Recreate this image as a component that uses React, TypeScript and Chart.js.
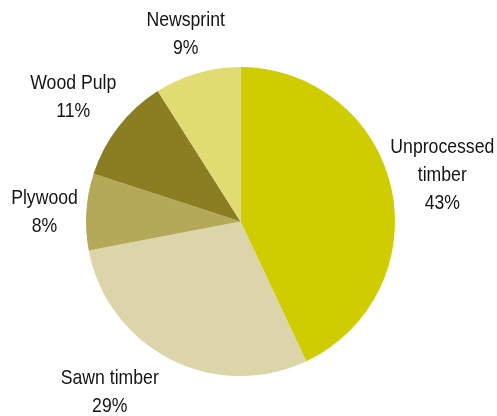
import React, { useEffect, useRef } from "react";
import { Chart, registerables } from "chart.js";

Chart.register(...registerables);

const categories: string[][] = [
  ["Unprocessed", "timber"],
  ["Sawn timber"],
  ["Plywood"],
  ["Wood Pulp"],
  ["Newsprint"],
];
const shares: number[] = [43, 29, 8, 11, 9];
const colors: string[] = ["#cfcc00", "#dbd5a9", "#b4a859", "#8b7e22", "#e0dc72"];

// label placement (style): radial distance as a multiple of radius, and angle nudge in degrees
const labelDist: number[] = [1.34, 1.39, 1.27, 1.35, 1.265];
const labelNudge: number[] = [-0.3, 10.5, -0.8, -1.1, -0.1];

const FONT = '"Liberation Sans", Arial, sans-serif';
const NARROW = 0.84;

const outsideLabels = {
  id: "outsideLabels",
  afterDatasetsDraw(chart: any) {
    const ctx = chart.ctx;
    const meta = chart.getDatasetMeta(0);
    const data = chart.data.datasets[0].data as number[];
    const total = data.reduce((a, b) => a + b, 0);
    ctx.save();
    ctx.fillStyle = "#141414";
    ctx.font = `21px ${FONT}`;
    ctx.textAlign = "center";
    ctx.textBaseline = "middle";
    meta.data.forEach((arc: any, i: number) => {
      const { x, y, startAngle, endAngle, outerRadius } = arc.getProps(
        ["x", "y", "startAngle", "endAngle", "outerRadius"],
        true
      );
      const mid = (startAngle + endAngle) / 2 + (labelNudge[i] * Math.PI) / 180;
      const r = outerRadius * labelDist[i];
      const cx = x + Math.cos(mid) * r;
      const cy = y + Math.sin(mid) * r;
      const pct = Math.round((data[i] / total) * 100) + "%";
      const lines = [...(chart.data.labels[i] as string[]), pct];
      const lh = 28;
      lines.forEach((ln, k) => {
        ctx.save();
        ctx.translate(cx, cy + (k - (lines.length - 1) / 2) * lh);
        ctx.scale(NARROW, 1);
        ctx.fillText(ln, 0, 0);
        ctx.restore();
      });
    });
    ctx.restore();
  },
};

export default function App() {
  const ref = useRef<HTMLCanvasElement>(null);
  useEffect(() => {
    if (!ref.current) return;
    const chart = new Chart(ref.current, {
      type: "pie",
      data: {
        labels: categories as any,
        datasets: [
          {
            data: shares,
            backgroundColor: colors,
            borderWidth: 0,
          },
        ],
      },
      options: {
        animation: false,
        responsive: true,
        maintainAspectRatio: false,
        layout: { padding: { left: 86, right: 102, top: 67, bottom: 40 } },
        plugins: {
          legend: { display: false },
          tooltip: { enabled: false },
        },
      },
      plugins: [outsideLabels],
    });
    return () => chart.destroy();
  }, []);
  return (
    <div style={{ position: "fixed", left: 0, top: 0, width: 497, height: 416, background: "#fff" }}>
      <canvas ref={ref} />
    </div>
  );
}
